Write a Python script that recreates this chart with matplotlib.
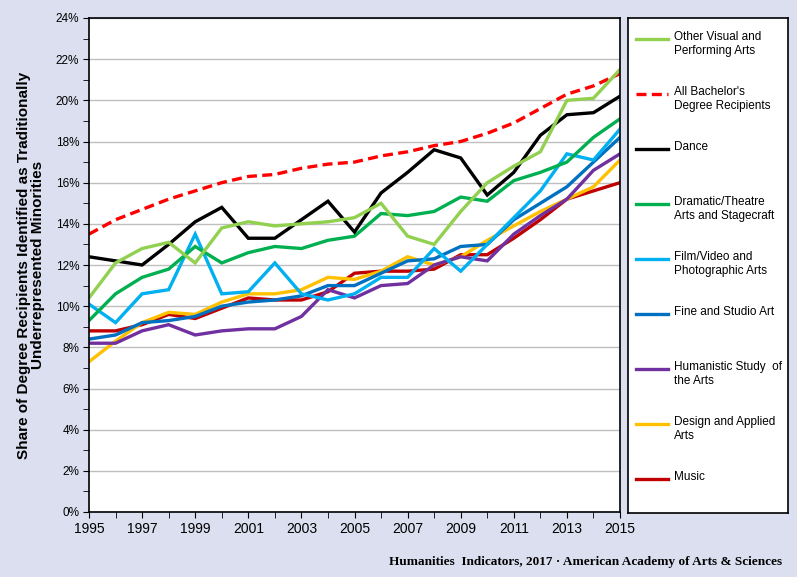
import matplotlib
matplotlib.use("Agg")
import matplotlib.pyplot as plt
from matplotlib.ticker import MultipleLocator, FixedLocator, FuncFormatter

years = list(range(1995, 2016))
year_labels = list(range(1995, 2016, 2))

other_visual = [10.4, 12.1, 12.8, 13.1, 12.1, 13.8, 14.1, 13.9, 14.0, 14.1, 14.3,
                15.0, 13.4, 13.0, 14.6, 16.0, 16.8, 17.5, 20.0, 20.1, 21.5]
all_bachelors = [13.5, 14.2, 14.7, 15.2, 15.6, 16.0, 16.3, 16.4, 16.7, 16.9, 17.0,
                 17.3, 17.5, 17.8, 18.0, 18.4, 18.9, 19.6, 20.3, 20.7, 21.3]
dance = [12.4, 12.2, 12.0, 13.0, 14.1, 14.8, 13.3, 13.3, 14.2, 15.1, 13.6,
         15.5, 16.5, 17.6, 17.2, 15.4, 16.5, 18.3, 19.3, 19.4, 20.2]
dramatic = [9.3, 10.6, 11.4, 11.8, 12.9, 12.1, 12.6, 12.9, 12.8, 13.2, 13.4,
            14.5, 14.4, 14.6, 15.3, 15.1, 16.1, 16.5, 17.0, 18.2, 19.1]
film = [10.1, 9.2, 10.6, 10.8, 13.5, 10.6, 10.7, 12.1, 10.6, 10.3, 10.6,
        11.4, 11.4, 12.8, 11.7, 13.0, 14.3, 15.6, 17.4, 17.1, 18.6]
fine_studio = [8.4, 8.6, 9.2, 9.3, 9.5, 10.0, 10.2, 10.3, 10.5, 11.0, 11.0,
               11.6, 12.2, 12.3, 12.9, 13.0, 14.2, 15.0, 15.8, 17.0, 18.2]
humanistic = [8.2, 8.2, 8.8, 9.1, 8.6, 8.8, 8.9, 8.9, 9.5, 10.8, 10.4,
              11.0, 11.1, 12.0, 12.4, 12.2, 13.5, 14.4, 15.2, 16.6, 17.4]
design = [7.3, 8.3, 9.2, 9.7, 9.6, 10.2, 10.6, 10.6, 10.8, 11.4, 11.3,
          11.7, 12.4, 12.0, 12.4, 13.2, 13.9, 14.6, 15.2, 15.8, 17.1]
music = [8.8, 8.8, 9.1, 9.6, 9.4, 9.9, 10.4, 10.3, 10.3, 10.7, 11.6,
         11.7, 11.7, 11.8, 12.5, 12.5, 13.3, 14.2, 15.2, 15.6, 16.0]

labels = ["Other Visual and\nPerforming Arts",
          "All Bachelor's\nDegree Recipients",
          "Dance",
          "Dramatic/Theatre\nArts and Stagecraft",
          "Film/Video and\nPhotographic Arts",
          "Fine and Studio Art",
          "Humanistic Study  of\nthe Arts",
          "Design and Applied\nArts",
          "Music"]
series = [other_visual, all_bachelors, dance, dramatic, film, fine_studio,
          humanistic, design, music]
colors = ["#92D050", "#FF0000", "#000000", "#00B050", "#00B0F0", "#0070C0",
          "#7030A0", "#FFC000", "#C00000"]
styles = ["-", "--", "-", "-", "-", "-", "-", "-", "-"]

bg = "#DCDFEF"
W, H = 797, 577
fig = plt.figure(figsize=(W / 100, H / 100), dpi=100, facecolor=bg)

ax = fig.add_axes([89 / W, 1 - 512 / H, (620 - 89) / W, (512 - 18) / H])
ax.set_facecolor("white")

# draw in reverse so the first legend entries sit on top
for vals, c, ls in reversed(list(zip(series, colors, styles))):
    if ls == "--":
        ax.plot(years, vals, color=c, lw=2.4, ls=(0, (3, 1.6)))
    else:
        ax.plot(years, vals, color=c, lw=2.4, solid_joinstyle="miter")

ax.set_xlim(1995, 2015)
ax.set_ylim(0, 24)
ax.yaxis.set_major_locator(MultipleLocator(2))
ax.yaxis.set_minor_locator(MultipleLocator(1))
ax.yaxis.set_major_formatter(FuncFormatter(lambda v, p: f"{v:.0f}%"))
ax.xaxis.set_major_locator(FixedLocator(year_labels))
ax.xaxis.set_minor_locator(FixedLocator(years))
ax.grid(axis="y", which="major", color="#BFBFBF", lw=1.0)
ax.set_axisbelow(True)
for s in ax.spines.values():
    s.set_color("black")
    s.set_linewidth(1.2)
ax.tick_params(axis="both", which="both", direction="out", color="black")
ax.tick_params(axis="y", which="both", length=4, labelsize=8.5, pad=3)
ax.tick_params(axis="x", which="both", length=4, pad=3)
for t in ax.get_xticklabels():
    t.set_family(["Liberation Sans Narrow", "Liberation Sans"])
    t.set_fontsize(10)
for t in ax.get_yticklabels():
    t.set_family(["Liberation Sans", "DejaVu Sans"])

ax.set_ylabel("Share of Degree Recipients Identified as Traditionally\n"
              "Underrepresented Minorities",
              fontsize=11, fontweight="bold", family=["Liberation Sans", "DejaVu Sans"],
              labelpad=8, linespacing=1.0)

# legend panel
lax = fig.add_axes([628 / W, 1 - 513 / H, (788 - 628) / W, (513 - 18) / H])
lax.set_xlim(0, 160)
lax.set_ylim(495, 0)
lax.set_xticks([])
lax.set_yticks([])
lax.set_facecolor("white")
for s in lax.spines.values():
    s.set_color("black")
    s.set_linewidth(1.2)
for i, (lab, c, ls) in enumerate(zip(labels, colors, styles)):
    y = 21 + 55 * i
    if ls == "--":
        lax.plot([8, 40], [y, y], color=c, lw=2.4, ls=(0, (3, 1.6)))
    else:
        lax.plot([8, 40], [y, y], color=c, lw=2.4)
    lax.text(46, y - 8, lab, fontsize=8.5, va="top", ha="left",
             family=["Liberation Sans", "DejaVu Sans"], linespacing=1.25)

fig.text(782 / W, 1 - 562 / H,
         "Humanities  Indicators, 2017 \u00b7 American Academy of Arts & Sciences",
         ha="right", va="center", fontsize=9.5, fontweight="bold",
         family=["Liberation Serif", "DejaVu Serif"])

fig.savefig("out.png", dpi=100, facecolor=bg)
